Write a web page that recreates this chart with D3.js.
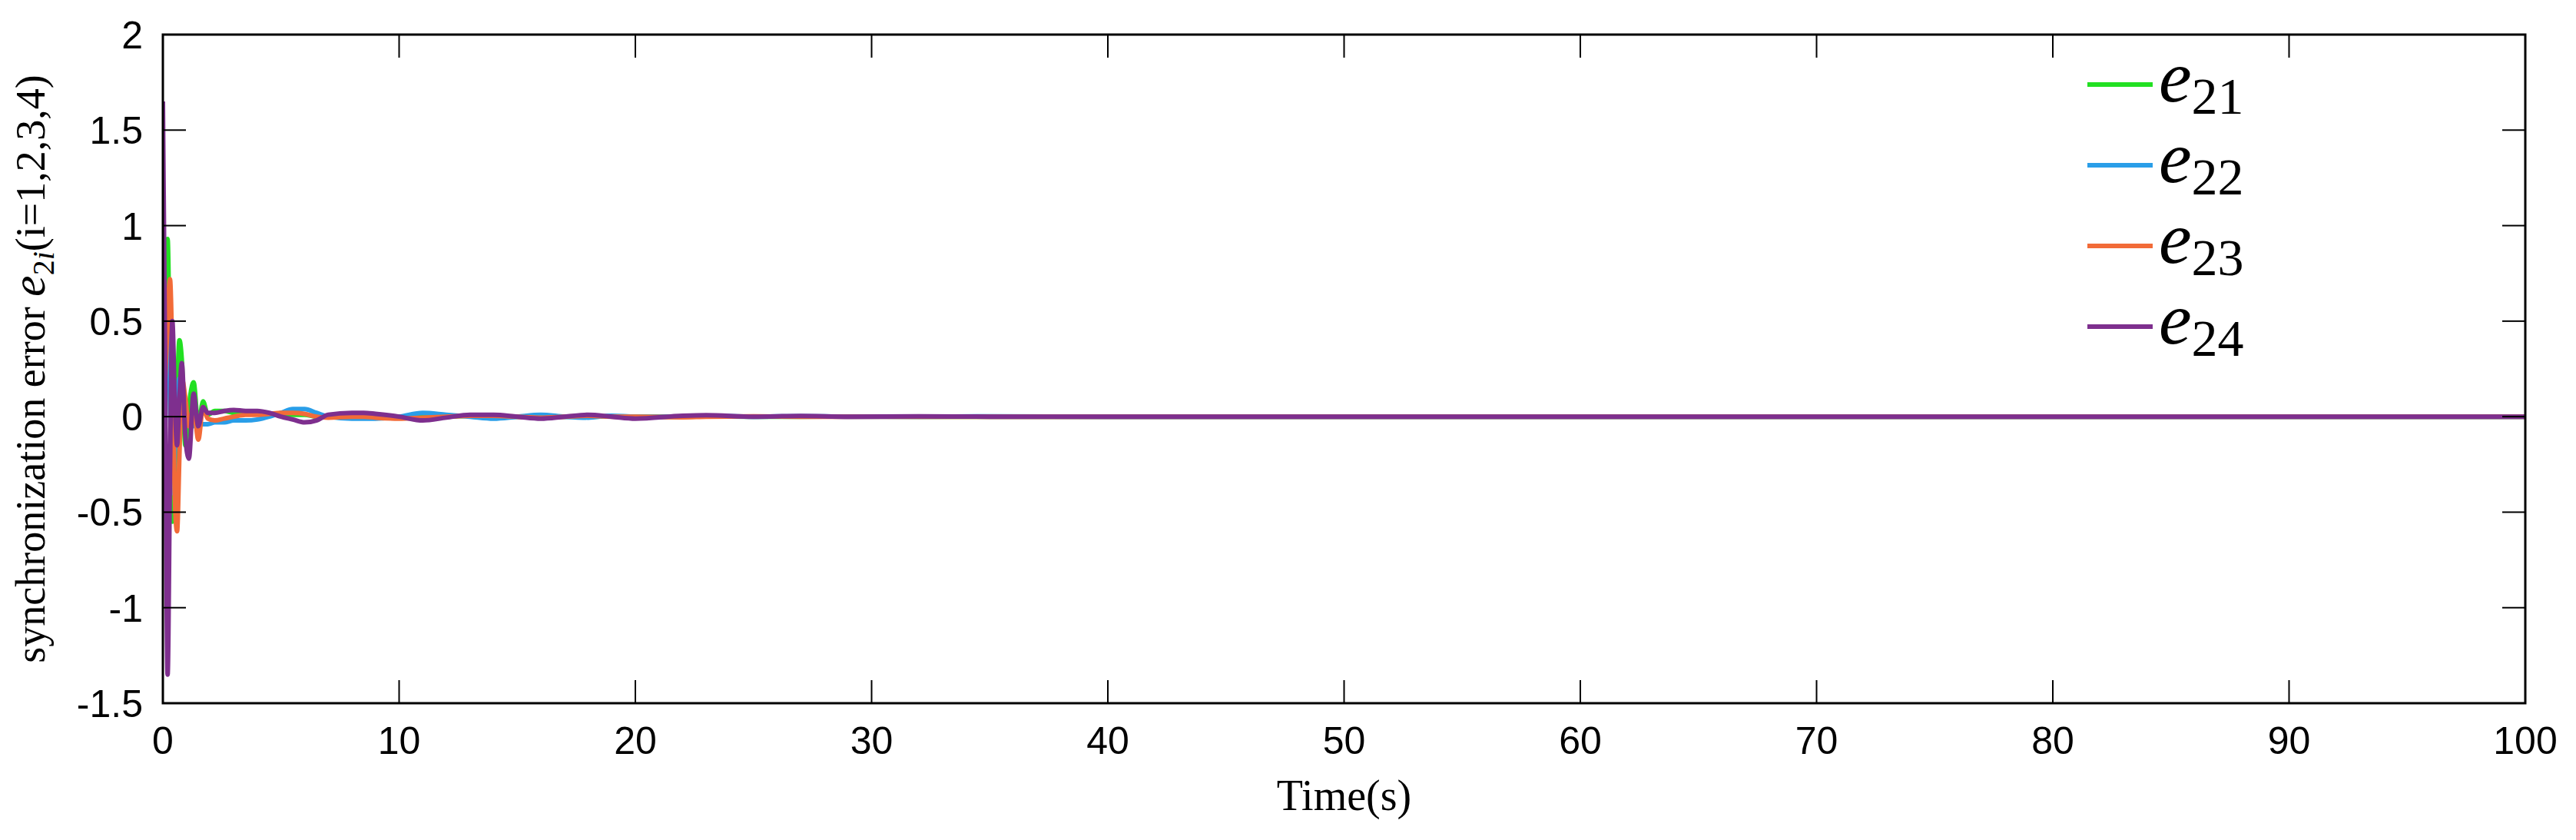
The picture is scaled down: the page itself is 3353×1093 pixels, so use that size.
<!DOCTYPE html>
<html>
<head>
<meta charset="utf-8">
<script src="https://cdn.jsdelivr.net/npm/d3@7"></script>
<style>
  body { margin: 0; background: #fff; }
</style>
</head>
<body>
<svg id="chart" width="3353" height="1093"></svg>
<script>
// time samples (s) and the four error series
const times = [0, 0.1, 0.2, 0.3, 0.4, 0.5, 0.6, 0.7, 0.8, 0.95, 1.1, 1.3, 1.5, 1.7, 1.9, 2.2, 2.6, 3, 3.5, 4, 4.5, 5, 5.5, 6, 6.5, 7, 8, 8.5, 9, 10, 11, 12, 13, 14, 15, 16, 17, 18, 19, 20, 22, 23, 25, 27, 29, 32, 35, 40, 50, 60, 70, 80, 90, 100];
const e21 = [0, 0.6, 0.93, 0.2, -0.55, -0.3, 0.1, 0.4, 0.3, -0.15, 0.05, 0.18, -0.05, 0.08, 0.01, 0.03, 0.03, 0.02, 0.02, 0.02, 0.015, 0.01, 0.01, 0.01, 0, 0, 0.01, 0.01, 0.005, 0, 0.005, 0, 0.005, 0, 0, 0.003, 0, 0, 0.002, 0, 0, 0.002, 0, 0, 0.001, 0, 0, 0, 0, 0, 0, 0, 0, 0];
const e22 = [0, 0.3, 0.6, 0.1, -0.4, -0.2, 0.05, 0.2, 0.15, -0.05, 0, -0.05, -0.03, -0.04, -0.04, -0.03, -0.03, -0.02, -0.02, -0.015, 0, 0.02, 0.04, 0.04, 0.02, 0, -0.01, -0.01, -0.01, 0, 0.02, 0.01, 0, -0.01, 0, 0.01, 0, -0.005, 0.005, 0, 0, 0.005, 0, 0.003, 0, 0, 0.002, 0, 0, 0, 0, 0, 0, 0];
const e23 = [0, 0.2, 0.5, 0.72, 0.3, -0.4, -0.6, -0.2, 0.2, 0.1, -0.05, 0.05, -0.12, 0.05, -0.01, -0.02, -0.01, 0, 0.01, 0.01, 0.015, 0.02, 0.02, 0.015, 0, -0.005, 0, 0, -0.005, -0.01, -0.005, 0, 0.005, 0.005, 0, -0.005, 0, 0.005, 0, 0, -0.003, 0, 0.002, 0, 0, 0, 0, 0, 0, 0, 0, 0, 0, 0];
const e24 = [1.65, 0.2, -1.35, -0.3, 0.5, 0.1, -0.15, 0.1, 0.28, -0.1, -0.22, 0.12, -0.05, 0.05, 0.02, 0.02, 0.03, 0.035, 0.03, 0.03, 0.02, 0, -0.015, -0.03, -0.02, 0.01, 0.02, 0.02, 0.015, 0, -0.02, -0.005, 0.01, 0.01, 0, -0.01, 0, 0.01, 0, -0.01, 0.005, 0.008, 0, 0.004, 0, 0.002, 0, 0, 0, 0, 0, 0, 0, 0];
const seriesNames = ["21", "22", "23", "24"];
const seriesColors = ["#22e022", "#2a9ee8", "#f26b38", "#7e2f8e"];
const xTicks = [0, 10, 20, 30, 40, 50, 60, 70, 80, 90, 100];
const yTicks = [-1.5, -1, -0.5, 0, 0.5, 1, 1.5, 2];

const margin = {left: 212, right: 66, top: 45, bottom: 178};
const width = 3353, height = 1093;
const svg = d3.select("#chart");

const x = d3.scaleLinear().domain([0, 100]).range([margin.left, width - margin.right]);
const y = d3.scaleLinear().domain([-1.5, 2]).range([height - margin.bottom, margin.top]);

const allSeries = [e21, e22, e23, e24];

const line = d3.line()
    .x((d, i) => x(times[i]))
    .y(d => y(d))
    .curve(d3.curveMonotoneX);

svg.append("clipPath").attr("id", "clip")
    .append("rect")
    .attr("x", x(0)).attr("y", y(2))
    .attr("width", x(100) - x(0)).attr("height", y(-1.5) - y(2));

const plot = svg.append("g").attr("clip-path", "url(#clip)");
allSeries.forEach((s, k) => {
    plot.append("path")
        .datum(s)
        .attr("d", line)
        .style("fill", "none")
        .style("stroke", seriesColors[k])
        .style("stroke-width", "6px")
        .style("stroke-linejoin", "round");
});

// frame
svg.append("rect")
    .attr("x", x(0)).attr("y", y(2))
    .attr("width", x(100) - x(0)).attr("height", y(-1.5) - y(2))
    .style("fill", "none").style("stroke", "#000").style("stroke-width", "3px");

const tickLen = 30;
const tickFont = "'Liberation Sans', Arial, sans-serif";
xTicks.forEach(t => {
    [y(-1.5), y(2)].forEach((yy, j) => {
        svg.append("line")
            .attr("x1", x(t)).attr("x2", x(t))
            .attr("y1", yy).attr("y2", j === 0 ? yy - tickLen : yy + tickLen)
            .style("stroke", "#000").style("stroke-width", "2px");
    });
    svg.append("text")
        .attr("x", x(t)).attr("y", y(-1.5) + 66)
        .attr("text-anchor", "middle")
        .style("font-family", tickFont).style("font-size", "50px")
        .text(t);
});
yTicks.forEach(t => {
    [x(0), x(100)].forEach((xx, j) => {
        svg.append("line")
            .attr("x1", xx).attr("x2", j === 0 ? xx + tickLen : xx - tickLen)
            .attr("y1", y(t)).attr("y2", y(t))
            .style("stroke", "#000").style("stroke-width", "2px");
    });
    svg.append("text")
        .attr("x", x(0) - 26).attr("y", y(t) + 18)
        .attr("text-anchor", "end")
        .style("font-family", tickFont).style("font-size", "50px")
        .text(t);
});

const serif = "'Liberation Serif', 'DejaVu Serif', serif";
svg.append("text")
    .attr("x", (x(0) + x(100)) / 2).attr("y", 1054)
    .attr("text-anchor", "middle")
    .style("font-family", serif).style("font-size", "56px")
    .text("Time(s)");

const ylab = svg.append("text")
    .attr("transform", `translate(58, ${(y(2) + y(-1.5)) / 2}) rotate(-90)`)
    .attr("text-anchor", "middle")
    .style("font-family", serif).style("font-size", "54px");
ylab.append("tspan").text("synchronization error ");
ylab.append("tspan").style("font-family", serif).style("font-style", "italic").style("font-size", "62px").text("e");
ylab.append("tspan").attr("dy", 12).style("font-family", serif).style("font-size", "40px").text("2");
ylab.append("tspan").style("font-family", serif).style("font-style", "italic").style("font-size", "40px").text("i");
ylab.append("tspan").attr("dy", -12).text("(i=1,2,3,4)");

// legend
const legend = svg.append("g");
seriesNames.forEach((n, k) => {
    const ly = 110 + k * 105;
    legend.append("line")
        .attr("x1", 2717).attr("x2", 2802).attr("y1", ly).attr("y2", ly)
        .style("stroke", seriesColors[k]).style("stroke-width", "6px");
    const t = legend.append("text")
        .attr("x", 2810).attr("y", ly + 22)
        .style("font-family", serif);
    t.append("tspan").style("font-family", serif).style("font-style", "italic").style("font-size", "96px").text("e");
    t.append("tspan").attr("dy", 16).style("font-family", serif).style("font-size", "68px").text(n);
});
</script>
</body>
</html>
